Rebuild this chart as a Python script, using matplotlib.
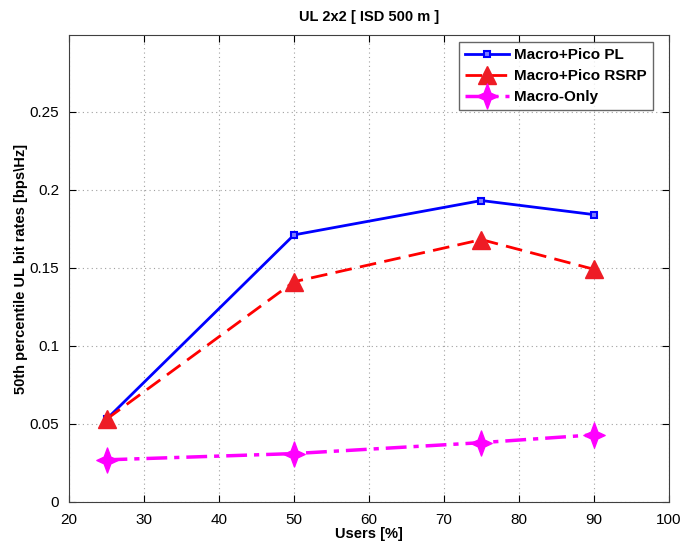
import matplotlib
matplotlib.use('Agg')
import matplotlib.pyplot as plt
from matplotlib.path import Path

# data
users = [25, 50, 75, 90]
pico_pl = [0.053, 0.171, 0.193, 0.184]
pico_rsrp = [0.053, 0.141, 0.168, 0.149]
macro_only = [0.027, 0.031, 0.038, 0.043]

plt.rcParams['font.family'] = ['Liberation Sans', 'DejaVu Sans']

# four-pointed star like the marker in the original (a bit taller than wide)
r = 0.27
star = Path([(0, 1), (r, r), (0.85, 0), (r, -r), (0, -1), (-r, -r), (-0.85, 0), (-r, r), (0, 1)],
            [Path.MOVETO] + [Path.LINETO] * 7 + [Path.CLOSEPOLY])

fig = plt.figure(figsize=(6.86, 5.45), dpi=100)
ax = fig.add_axes([0.1006, 0.0789, 0.8744, 0.8569])

ax.plot(users, pico_pl, color='#0000ff', linestyle='-', linewidth=2,
        marker='s', markersize=5, markerfacecolor='#8080ff', markeredgecolor='#0000ff',
        markeredgewidth=1.5, label='Macro+Pico PL')
ax.plot(users, pico_rsrp, color='#ff0000', linestyle=(0, (6, 3)), linewidth=2,
        marker='^', markersize=13, markerfacecolor='#ee1c25', markeredgecolor='#ee1c25',
        label='Macro+Pico RSRP')
ax.plot(users, macro_only, color='#ff00ff', linestyle=(0, (6, 2, 1.5, 2)), linewidth=2.5,
        marker=star, markersize=18, markerfacecolor='#ff00ff', markeredgecolor='#ff00ff',
        label='Macro-Only')

ax.set_xlim(20, 100)
ax.set_ylim(0, 0.299)
ax.set_xticks(range(20, 101, 10))
ax.set_yticks([0, 0.05, 0.1, 0.15, 0.2, 0.25])
ax.set_yticklabels(['0', '0.05', '0.1', '0.15', '0.2', '0.25'])
ax.grid(True, linestyle=(0, (1, 3)), color='#a0a0a0', linewidth=0.8)
ax.tick_params(direction='in', length=5, labelsize=11, top=True, right=True)
ax.tick_params(axis='x', pad=8)
ax.tick_params(axis='y', pad=7)
for sp in ax.spines.values():
    sp.set_color('#404040')

ax.set_xlabel('Users [%]', fontsize=10.5, fontweight='bold', labelpad=0)
ax.set_ylabel('50th percentile UL bit rates [bps\\Hz]', fontsize=10.5, fontweight='bold', labelpad=1)
ax.set_title('UL 2x2 [ ISD 500 m ]', fontsize=10.5, fontweight='bold', pad=10)

leg = ax.legend(loc='upper right', bbox_to_anchor=(0.973, 0.985), borderaxespad=0,
                fontsize=11, frameon=True, fancybox=False, edgecolor='#404040',
                handlelength=2.9, labelspacing=0.45, borderpad=0.4, handletextpad=0.3)
leg.get_frame().set_linewidth(1.0)
for t in leg.get_texts():
    t.set_fontweight('bold')

fig.savefig('out.png', dpi=100)
